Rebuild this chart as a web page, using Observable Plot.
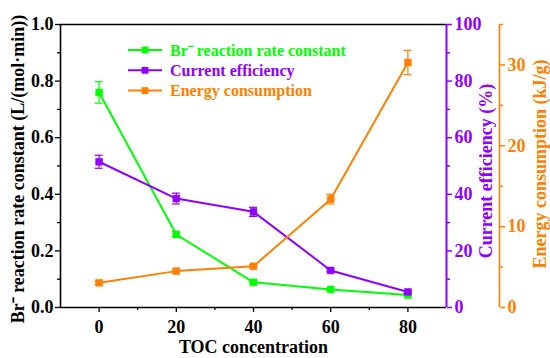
<!DOCTYPE html>
<html><head><meta charset="utf-8">
<script src="https://cdn.jsdelivr.net/npm/d3@7"></script>
<script src="https://cdn.jsdelivr.net/npm/@observablehq/plot@0.6"></script>
<style>
body{margin:0;background:#fff;}
#chart{position:relative;width:550px;height:358px;}
#legend{position:absolute;left:0;top:0;pointer-events:none;}
</style></head><body><div id="chart"></div>
<script>
// ---- data ----
const toc = [0, 20, 40, 60, 80];
const brRate = [0.76, 0.258, 0.089, 0.064, 0.044];
const brErr = [0.038, 0.01, 0.004, 0.003, 0.003];
const curEff = [51.5, 38.5, 33.8, 13.1, 5.5];
const curErr = [2.3, 1.9, 1.6, 0.5, 0.5];
const energy = [3.06, 4.5, 5.1, 13.4, 30.3];
const energyErr = [0.2, 0.2, 0.2, 0.6, 1.5];

const xTicks = [0, 20, 40, 60, 80];
const xMinor = [10, 30, 50, 70];
const leftTicks = [0, 0.2, 0.4, 0.6, 0.8, 1.0];
const leftMinor = [0.1, 0.3, 0.5, 0.7, 0.9];
const effTicks = [0, 20, 40, 60, 80, 100];
const effMinor = [10, 30, 50, 70, 90];
const enTicks = [0, 10, 20, 30];
const enMinor = [5, 15, 25, 35];

const xDomain = [-10, 90];
const effMax = 100, enMax = 35;

const green = "#00FF00", purple = "#8F00FF", orange = "#FF8000";
const font = "'Liberation Serif', 'Times New Roman', serif";

const seriesNames = ["Br\u207B reaction rate constant", "Current efficiency", "Energy consumption"];
const seriesColors = [green, purple, orange];

// normalized onto left scale
const rows = [];
toc.forEach((x, i) => {
  rows.push({s: 0, x, y: brRate[i], lo: brRate[i] - brErr[i], hi: brRate[i] + brErr[i]});
  rows.push({s: 1, x, y: curEff[i] / effMax, lo: (curEff[i] - curErr[i]) / effMax, hi: (curEff[i] + curErr[i]) / effMax});
  rows.push({s: 2, x, y: energy[i] / enMax, lo: (energy[i] - energyErr[i]) / enMax, hi: (energy[i] + energyErr[i]) / enMax});
});

const marks = [];
// axis lines / frame
marks.push(Plot.ruleX([xDomain[0]], {stroke: "black", strokeWidth: 1.6}));
marks.push(Plot.ruleY([0], {stroke: "black", strokeWidth: 1.6}));
marks.push(Plot.ruleY([1], {stroke: "black", strokeWidth: 1.6}));
marks.push(Plot.ruleX([xDomain[1]], {stroke: purple, strokeWidth: 2}));
marks.push(Plot.ruleX([xDomain[1]], {stroke: orange, strokeWidth: 1.6, dx: 53}));

// left axis
marks.push(Plot.axisY(leftTicks, {anchor: "left", label: null, tickSize: 5, tickPadding: 2, tickFormat: d => d.toFixed(1), fontSize: 18, fontWeight: "bold", fill: "black", strokeWidth: 1.3}));
marks.push(Plot.axisY(leftMinor, {anchor: "left", label: null, tickSize: 3, text: null, strokeWidth: 1.3}));
// bottom axis
marks.push(Plot.axisX(xTicks, {anchor: "bottom", label: null, tickSize: 5, tickPadding: 8, fontSize: 18, fontWeight: "bold", strokeWidth: 1.3}));
marks.push(Plot.axisX(xMinor, {anchor: "bottom", label: null, tickSize: 3, text: null, strokeWidth: 1.3}));
// purple axis
marks.push(Plot.axisY(effTicks.map(v => v / effMax), {anchor: "right", label: null, tickSize: 5, tickPadding: 3, tickFormat: d => Math.round(d * effMax), fontSize: 18, fontWeight: "bold", stroke: purple, fill: purple, strokeWidth: 1.5}));
marks.push(Plot.axisY(effMinor.map(v => v / effMax), {anchor: "right", label: null, tickSize: 3, text: null, stroke: purple, strokeWidth: 1.5}));
// orange axis
marks.push(Plot.axisY(enTicks.map(v => v / enMax), {anchor: "right", label: null, dx: 53, tickSize: 5, tickPadding: 3, tickFormat: d => Math.round(d * enMax), fontSize: 18, fontWeight: "bold", stroke: orange, fill: orange, strokeWidth: 1.5}));
marks.push(Plot.axisY(enMinor.map(v => v / enMax), {anchor: "right", label: null, dx: 53, tickSize: 3, text: null, stroke: orange, strokeWidth: 1.5}));

// series
[0, 1, 2].forEach(s => {
  const d = rows.filter(r => r.s === s);
  const c = seriesColors[s];
  marks.push(Plot.line(d, {x: "x", y: "y", stroke: c, strokeWidth: 2}));
  marks.push(Plot.ruleX(d, {x: "x", y1: "lo", y2: "hi", stroke: c, strokeWidth: 1.2}));
  marks.push(Plot.ruleY(d, {y: "lo", x1: "x", x2: "x", insetLeft: -4, insetRight: -4, stroke: c, strokeWidth: 1.2}));
  marks.push(Plot.ruleY(d, {y: "hi", x1: "x", x2: "x", insetLeft: -4, insetRight: -4, stroke: c, strokeWidth: 1.2}));
  marks.push(Plot.dot(d, {x: "x", y: "y", symbol: "square", r: 3.9, fill: c, stroke: c, strokeWidth: 0.5}));
});

// titles
const titleStyle = {fontSize: 18, fontWeight: "bold", fontFamily: font, textAnchor: "middle", lineAnchor: "middle"};
marks.push(Plot.text(["Br\u207B reaction rate constant (L/(mol\u00B7min))"], {frameAnchor: "left", dx: -42, dy: 3, rotate: -90, fill: "black", ...titleStyle}));
marks.push(Plot.text(["Current efficiency (%)"], {frameAnchor: "right", dx: 40, dy: 5, rotate: -90, fill: purple, ...titleStyle}));
marks.push(Plot.text(["Energy consumption (kJ/g)"], {frameAnchor: "right", dx: 94, dy: -2, rotate: -90, fill: orange, ...titleStyle}));
marks.push(Plot.text(["TOC concentration"], {frameAnchor: "bottom", dy: 40, fill: "black", ...titleStyle}));

const chart = Plot.plot({
  width: 550,
  height: 358,
  marginLeft: 60,
  marginRight: 104,
  marginTop: 24,
  marginBottom: 51,
  style: {fontFamily: font, background: "white", overflow: "visible"},
  x: {domain: xDomain, axis: null},
  y: {domain: [0, 1], axis: null},
  marks
});
const host = document.getElementById("chart");
host.appendChild(chart);

// legend overlay
const svg = d3.select(host).append("svg").attr("id", "legend").attr("width", 550).attr("height", 358);
seriesNames.forEach((name, i) => {
  const y = 50 + i * 20.3;
  const g = svg.append("g");
  g.append("line").attr("x1", 128).attr("x2", 162).attr("y1", y).attr("y2", y).attr("stroke", seriesColors[i]).attr("stroke-width", 2);
  g.append("rect").attr("x", 145 - 3.4).attr("y", y - 3.4).attr("width", 6.8).attr("height", 6.8).attr("fill", seriesColors[i]);
  g.append("text").attr("x", 170).attr("y", y).attr("dy", "0.35em").attr("fill", seriesColors[i])
    .attr("font-family", font).attr("font-weight", "bold").attr("font-size", 16).text(name);
});
</script></body></html>
